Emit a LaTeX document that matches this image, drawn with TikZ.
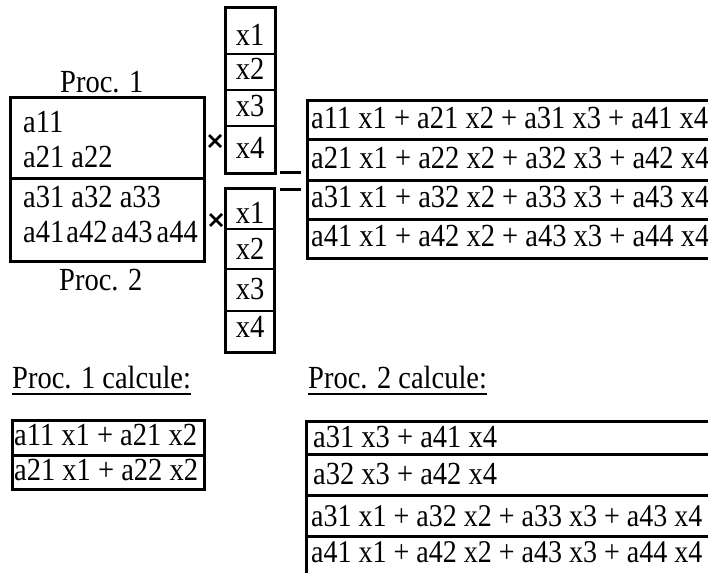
\documentclass[tikz,border=0pt]{standalone}
\usepackage{fontspec}
\setmainfont{Liberation Serif}
\newcommand{\vtx}[1]{\scalebox{1}[1.13]{#1}}
\begin{document}
\begin{tikzpicture}[x=1pt,y=-1pt,
  txt/.style={anchor=base west,inner sep=0pt,font=\fontsize{28.5}{30}\selectfont},
  ctxt/.style={anchor=base,inner sep=0pt,font=\fontsize{28.5}{30}\selectfont},
  stxt/.style={anchor=base west,inner sep=0pt,font=\fontsize{28}{30}\selectfont},
  outer/.style={line width=3pt},
  inner/.style={line width=2.2pt},
  mult/.style={line width=2.6pt},
  uline/.style={line width=1.4pt}]
\useasboundingbox (0,0) rectangle (708,572);

% ---- matrix split between the two processors
\draw[outer] (10,98) rectangle (204,261);
\draw[outer] (10,178) -- (204,178);
\node[txt] (p1) at (60,93) {\vtx{Proc. 1}};
\node[txt] (p2) at (59,290) {\vtx{Proc. 2}};
\node[txt] (m1) at (23,132) {\vtx{a11}};
\node[txt] (m2) at (23,167) {\vtx{a21 a22}};
\node[txt] (m3) at (23,207) {\vtx{a31 a32 a33}};
\node[txt] (m4) at (23,242) {\vtx{a41\hspace{2pt}a42\hspace{4pt}a43\hspace{4pt}a44}};

% ---- multiplication signs
\coordinate (t1) at (215,141);
\coordinate (t2) at (216,220);
\draw[mult] ([shift={(-6pt,-6pt)}]t1) -- ([shift={(6pt,6pt)}]t1)
            ([shift={(-6pt,6pt)}]t1) -- ([shift={(6pt,-6pt)}]t1);
\draw[mult] ([shift={(-6pt,-6pt)}]t2) -- ([shift={(6pt,6pt)}]t2)
            ([shift={(-6pt,6pt)}]t2) -- ([shift={(6pt,-6pt)}]t2);

% ---- top vector
\draw[outer] (225,8) rectangle (275,173);
\draw[inner] (225,54) -- (275,54) (225,90) -- (275,90) (225,126) -- (275,126);
\node[ctxt] (ta) at (250,46) {\vtx{x1}};
\node[ctxt] (tb) at (250,80) {\vtx{x2}};
\node[ctxt] (tc) at (250,117) {\vtx{x3}};
\node[ctxt] (td) at (250,158) {\vtx{x4}};

% ---- bottom vector
\draw[outer] (225,188) rectangle (274,352);
\draw[inner] (225,229) -- (274,229) (225,269) -- (274,269) (225,311) -- (274,311);
\node[ctxt] (ba) at (250,223) {\vtx{x1}};
\node[ctxt] (bb) at (250,259) {\vtx{x2}};
\node[ctxt] (bc) at (250,299) {\vtx{x3}};
\node[ctxt] (bd) at (250,337) {\vtx{x4}};

% ---- equals sign
\draw[outer] (280,172) -- (301,172);
\draw[outer] (280,189) -- (301,189);

% ---- result vector
\draw[outer] (714,101) -- (307,101) -- (307,258) -- (714,258);
\draw[outer] (307,140) -- (714,140) (307,180) -- (714,180) (307,219) -- (714,219);
\node[txt] (r1) at (311,129) {\vtx{a11 x1 + a21 x2 + a31 x3 + a41 x4}};
\node[txt] (r2) at (311,168) {\vtx{a21 x1 + a22 x2 + a32 x3 + a42 x4}};
\node[txt] (r3) at (311,207) {\vtx{a31 x1 + a32 x2 + a33 x3 + a43 x4}};
\node[txt] (r4) at (311,246) {\vtx{a41 x1 + a42 x2 + a43 x3 + a44 x4}};

% ---- Proc. 1 computes
\node[txt] (c1) at (12,388) {\vtx{Proc. 1 calcule:}};
\draw[uline] ([yshift=-6pt]c1.base west) -- ([yshift=-6pt]c1.base east);
\draw[outer] (12,420) rectangle (204,489);
\draw[outer] (12,455) -- (204,455);
\node[txt] (q1) at (14,445) {\vtx{a11 x1 + a21 x2}};
\node[txt] (q2) at (14,480) {\vtx{a21 x1 + a22 x2}};

% ---- Proc. 2 computes
\node[txt] (c2) at (308,388) {\vtx{Proc. 2 calcule:}};
\draw[uline] ([yshift=-6pt]c2.base west) -- ([yshift=-6pt]c2.base east);
\draw[outer] (714,421) -- (306,421) -- (306,576);
\draw[outer] (306,454) -- (714,454) (306,495) -- (714,495) (306,536) -- (714,536);
\node[txt] (s1) at (313,447) {\vtx{a31 x3 + a41 x4}};
\node[txt] (s2) at (313,484) {\vtx{a32 x3 + a42 x4}};
\node[stxt] (s3) at (311,526) {\vtx{a31 x1 + a32 x2 + a33 x3 + a43 x4}};
\node[stxt] (s4) at (311,562) {\vtx{a41 x1 + a42 x2 + a43 x3 + a44 x4}};
\end{tikzpicture}
\end{document}
